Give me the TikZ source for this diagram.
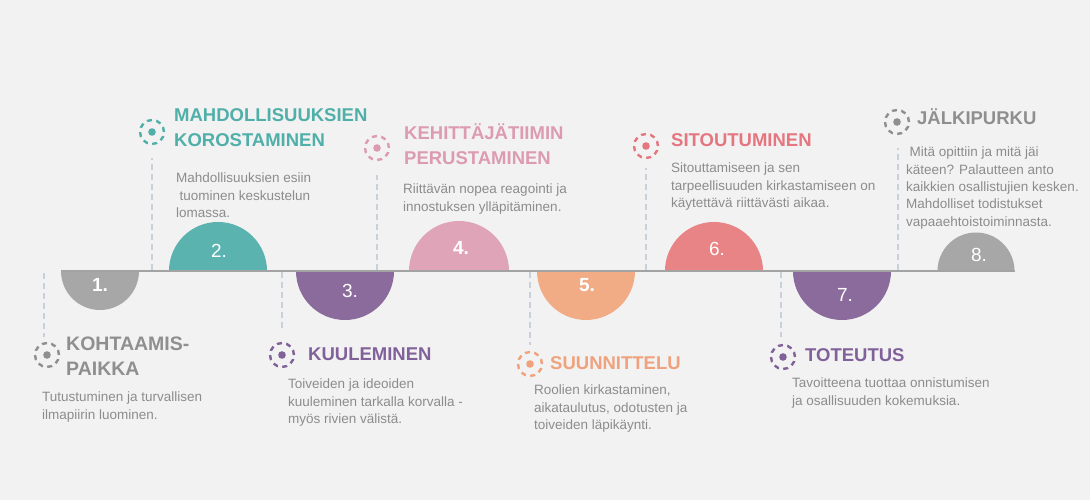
\documentclass[tikz,border=0pt]{standalone}
\usepackage{fontspec}
\setmainfont{Liberation Sans}
\usepackage{tikz}
\usepackage{xcolor}
\definecolor{bgcol}{HTML}{F2F2F2}
\definecolor{linecol}{HTML}{A3A3A3}
\definecolor{guidecol}{HTML}{C8D0DA}
\definecolor{desccol}{HTML}{8C8C8C}
\definecolor{grayfill}{HTML}{A7A7A7}
\definecolor{graytxt}{HTML}{8F8F8F}
\definecolor{tealfill}{HTML}{5AB3AE}
\definecolor{tealtxt}{HTML}{50AFA9}
\definecolor{purplefill}{HTML}{8A6B9C}
\definecolor{purpletxt}{HTML}{80619A}
\definecolor{pinkfill}{HTML}{DFA4B7}
\definecolor{pinktxt}{HTML}{DC9BB1}
\definecolor{orangefill}{HTML}{F1AC86}
\definecolor{orangetxt}{HTML}{F0A27C}
\definecolor{redfill}{HTML}{E98486}
\definecolor{redtxt}{HTML}{E5767F}
\tikzset{
  title/.style={anchor=base west, inner sep=0pt, align=left, text=#1,
    font=\fontsize{18.5}{25}\selectfont\bfseries},
  desc/.style={anchor=base west, inner sep=0pt, align=left, text=desccol,
    font=\fontsize{13.5}{17.3}\selectfont},
  num/.style={anchor=base, inner sep=0pt, text=white, font=\fontsize{19}{22}\selectfont},
  boldnum/.style={num, font=\fontsize{19}{22}\selectfont\bfseries},
  icon/.style={circle, draw=#1, line width=2.4pt, minimum size=24pt, inner sep=0pt,
    dash pattern=on 5pt off 4.4pt},
  guide/.style={draw=guidecol, line width=1.4pt, dash pattern=on 6pt off 4pt}
}

\begin{document}
\begin{tikzpicture}[x=1pt, y=1pt]
  \fill[bgcol] (0, 0) rectangle (1090, 500);
  \useasboundingbox (0, 0) rectangle (1090, 500);

  \fill[grayfill] (61, 229) arc (180:360:39) -- cycle;
  \fill[tealfill] (169, 229) arc (180:0:49) -- cycle;
  \fill[purplefill] (296, 229) arc (180:360:49) -- cycle;
  \fill[pinkfill] (409, 229) arc (180:0:50) -- cycle;
  \fill[orangefill] (537, 229) arc (180:360:49) -- cycle;
  \fill[redfill] (665, 229) arc (180:0:49) -- cycle;
  \fill[purplefill] (793, 229) arc (180:360:49) -- cycle;
  \fill[grayfill] (937.5, 229) arc (180:0:38.5) -- cycle;

  \coordinate (tl-start) at (61, 229);
  \coordinate (tl-end) at (1015, 229);
  \draw[linecol, line width=2pt] (tl-start) -- (tl-end);

  \node[boldnum] (n1) at (100, 208) {1.};
  \node[num] (n2) at (219, 242) {2.};
  \node[num] (n3) at (350, 202) {3.};
  \node[boldnum] (n4) at (461, 245) {4.};
  \node[boldnum] (n5) at (587, 208) {5.};
  \node[num] (n6) at (717, 244) {6.};
  \node[num] (n7) at (845, 198) {7.};
  \node[num] (n8) at (979, 238) {8.};

  \coordinate (g1a) at (44, 227);
  \coordinate (g1b) at (44, 163);
  \coordinate (g2a) at (152, 230);
  \coordinate (g2b) at (152, 342);
  \coordinate (g3a) at (282, 228);
  \coordinate (g3b) at (282, 168);
  \coordinate (g4a) at (377, 230);
  \coordinate (g4b) at (377, 325);
  \coordinate (g5a) at (530, 228);
  \coordinate (g5b) at (530, 155);
  \coordinate (g6a) at (646, 230);
  \coordinate (g6b) at (646, 332);
  \coordinate (g7a) at (781, 228);
  \coordinate (g7b) at (781, 163);
  \coordinate (g8a) at (898, 230);
  \coordinate (g8b) at (898, 352);
  \draw[guide] (g1a) -- (g1b);
  \draw[guide] (g2a) -- (g2b);
  \draw[guide] (g3a) -- (g3b);
  \draw[guide] (g4a) -- (g4b);
  \draw[guide] (g5a) -- (g5b);
  \draw[guide] (g6a) -- (g6b);
  \draw[guide] (g7a) -- (g7b);
  \draw[guide] (g8a) -- (g8b);

  \node[icon=graytxt] (i1) at (47, 145) {};
  \node[icon=tealtxt] (i2) at (152, 368) {};
  \node[icon=purpletxt] (i3) at (282, 145) {};
  \node[icon=pinktxt] (i4) at (377, 352) {};
  \node[icon=orangetxt] (i5) at (530, 136) {};
  \node[icon=redtxt] (i6) at (646, 354) {};
  \node[icon=purpletxt] (i7) at (783, 143) {};
  \node[icon=graytxt] (i8) at (897, 378) {};
  \fill[graytxt] (i1) circle (3.8);
  \fill[tealtxt] (i2) circle (3.8);
  \fill[purpletxt] (i3) circle (3.8);
  \fill[pinktxt] (i4) circle (3.8);
  \fill[orangetxt] (i5) circle (3.8);
  \fill[redtxt] (i6) circle (3.8);
  \fill[purpletxt] (i7) circle (3.8);
  \fill[graytxt] (i8) circle (3.8);

  \node[title=graytxt, font=\fontsize{19.5}{25}\selectfont\bfseries] (t1) at (66, 124) {KOHTAAMIS-\\PAIKKA};
  \node[title=tealtxt] (t2) at (174, 353) {MAHDOLLISUUKSIEN\\KOROSTAMINEN};
  \node[title=purpletxt] (t3) at (308, 139) {KUULEMINEN};
  \node[title=pinktxt] (t4) at (404, 335) {KEHITTÄJÄTIIMIN\\PERUSTAMINEN};
  \node[title=orangetxt] (t5) at (550, 130) {SUUNNITTELU};
  \node[title=redtxt] (t6) at (671, 353) {SITOUTUMINEN};
  \node[title=purpletxt] (t7) at (805, 138) {TOTEUTUS};
  \node[title=graytxt] (t8) at (917, 375) {JÄLKIPURKU};

  \node[desc] (d1) at (42, 80.7) {Tutustuminen ja turvallisen\\ilmapiirin luominen.};
  \node[desc] (d2) at (176, 282.4) {Mahdollisuuksien esiin\\\hspace*{3.5pt}tuominen keskustelun\\lomassa.};
  \node[desc] (d3) at (288, 76.4) {Toiveiden ja ideoiden\\kuuleminen tarkalla korvalla -\\myös rivien välistä.};
  \node[desc] (d4) at (403, 288.7) {Riittävän nopea reagointi ja\\innostuksen ylläpitäminen.};
  \node[desc] (d5) at (534, 70.4) {Roolien kirkastaminen,\\aikataulutus, odotusten ja\\toiveiden läpikäynti.};
  \node[desc] (d6) at (671, 292.4) {Sitouttamiseen ja sen\\tarpeellisuuden kirkastamiseen on\\käytettävä riittävästi aikaa.};
  \node[desc] (d7) at (792, 94.7) {Tavoitteena tuottaa onnistumisen\\ja osallisuuden kokemuksia.};
  \node[desc] (d8) at (906, 273.8) {\hspace*{3.5pt}Mitä opittiin ja mitä jäi\\käteen? Palautteen anto\\kaikkien osallistujien kesken.\\Mahdolliset todistukset\\vapaaehtoistoiminnasta.};
\end{tikzpicture}
\end{document}
